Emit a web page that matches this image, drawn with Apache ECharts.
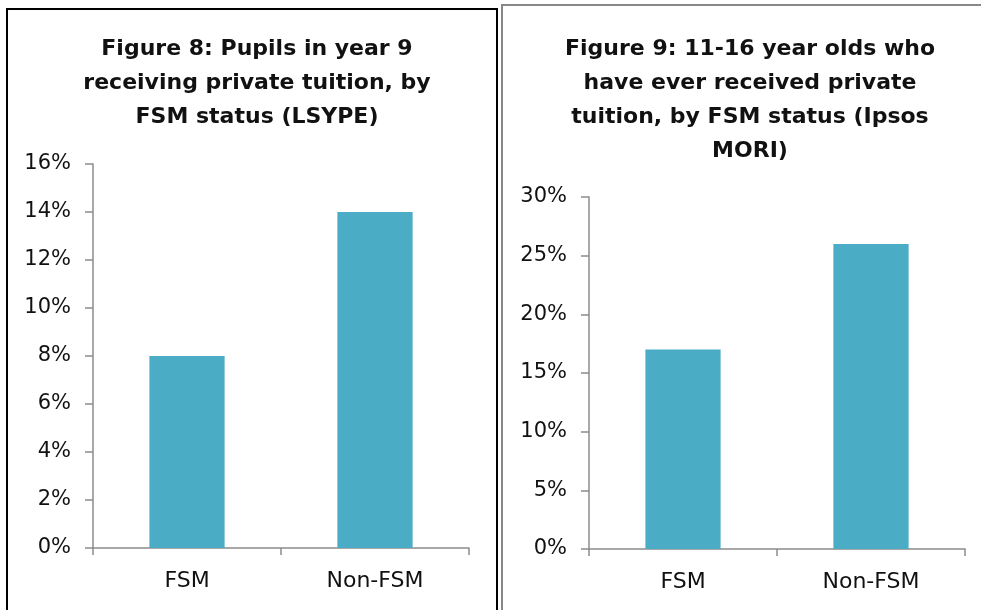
<!DOCTYPE html>
<html><head><meta charset="utf-8">
<script src="https://cdn.jsdelivr.net/npm/echarts@6/dist/echarts.min.js"></script>
<style>html,body{margin:0;padding:0;background:#fff;}#c{width:981px;height:610px;}</style>
</head><body><div id="c"></div>
<script>
const categories = ['FSM', 'Non-FSM'];
const fig8Values = [8, 14];
const fig9Values = [17, 26];
const fig8Title = 'Figure 8: Pupils in year 9\nreceiving private tuition, by\nFSM status (LSYPE)';
const fig9Title = 'Figure 9: 11-16 year olds who\nhave ever received private\ntuition, by FSM status (Ipsos\nMORI)';

const FONT = 'DejaVu Sans';
const txt = '#111';
const axisC = '#8c8c8c';
const barC = '#4BACC6';

function yAxis(idx, max, interval) {
  return {
    type: 'value', gridIndex: idx, min: 0, max: max, interval: interval,
    axisLine: {show: true, lineStyle: {color: axisC, width: 1.5}},
    axisTick: {show: true, length: 8, lineStyle: {color: axisC, width: 1.5}},
    splitLine: {show: false},
    axisLabel: {formatter: v => v + '%', color: txt, fontFamily: FONT, fontSize: 21, margin: 22}
  };
}
function xAxis(idx) {
  return {
    type: 'category', gridIndex: idx, data: categories,
    axisLine: {lineStyle: {color: axisC, width: 1.5}},
    axisTick: {show: true, length: 7, lineStyle: {color: axisC, width: 1.5}},
    axisLabel: {color: txt, fontFamily: FONT, fontSize: 22, margin: 22}
  };
}
const chart = echarts.init(document.getElementById('c'));
chart.setOption({
  animation: false,
  title: [
    {text: fig8Title, left: 252, top: 27, textAlign: 'center',
     textStyle: {fontFamily: FONT, fontSize: 22, fontWeight: 'bold', color: txt, lineHeight: 34}},
    {text: fig9Title, left: 745, top: 27, textAlign: 'center',
     textStyle: {fontFamily: FONT, fontSize: 22, fontWeight: 'bold', color: txt, lineHeight: 34}}
  ],
  graphic: [
    {type: 'rect', shape: {x: 7, y: 9, width: 490, height: 700}, style: {fill: 'none', stroke: '#000', lineWidth: 2}},
    {type: 'rect', shape: {x: 502, y: 5, width: 600, height: 700}, style: {fill: 'none', stroke: '#888', lineWidth: 2}}
  ],
  grid: [
    {left: 93, top: 164, width: 376, height: 384},
    {left: 589, top: 197, width: 376, height: 352}
  ],
  xAxis: [xAxis(0), xAxis(1)],
  yAxis: [yAxis(0, 16, 2), yAxis(1, 30, 5)],
  series: [
    {type: 'bar', xAxisIndex: 0, yAxisIndex: 0, data: fig8Values, barWidth: '40%', itemStyle: {color: barC}},
    {type: 'bar', xAxisIndex: 1, yAxisIndex: 1, data: fig9Values, barWidth: '40%', itemStyle: {color: barC}}
  ]
});
</script></body></html>
